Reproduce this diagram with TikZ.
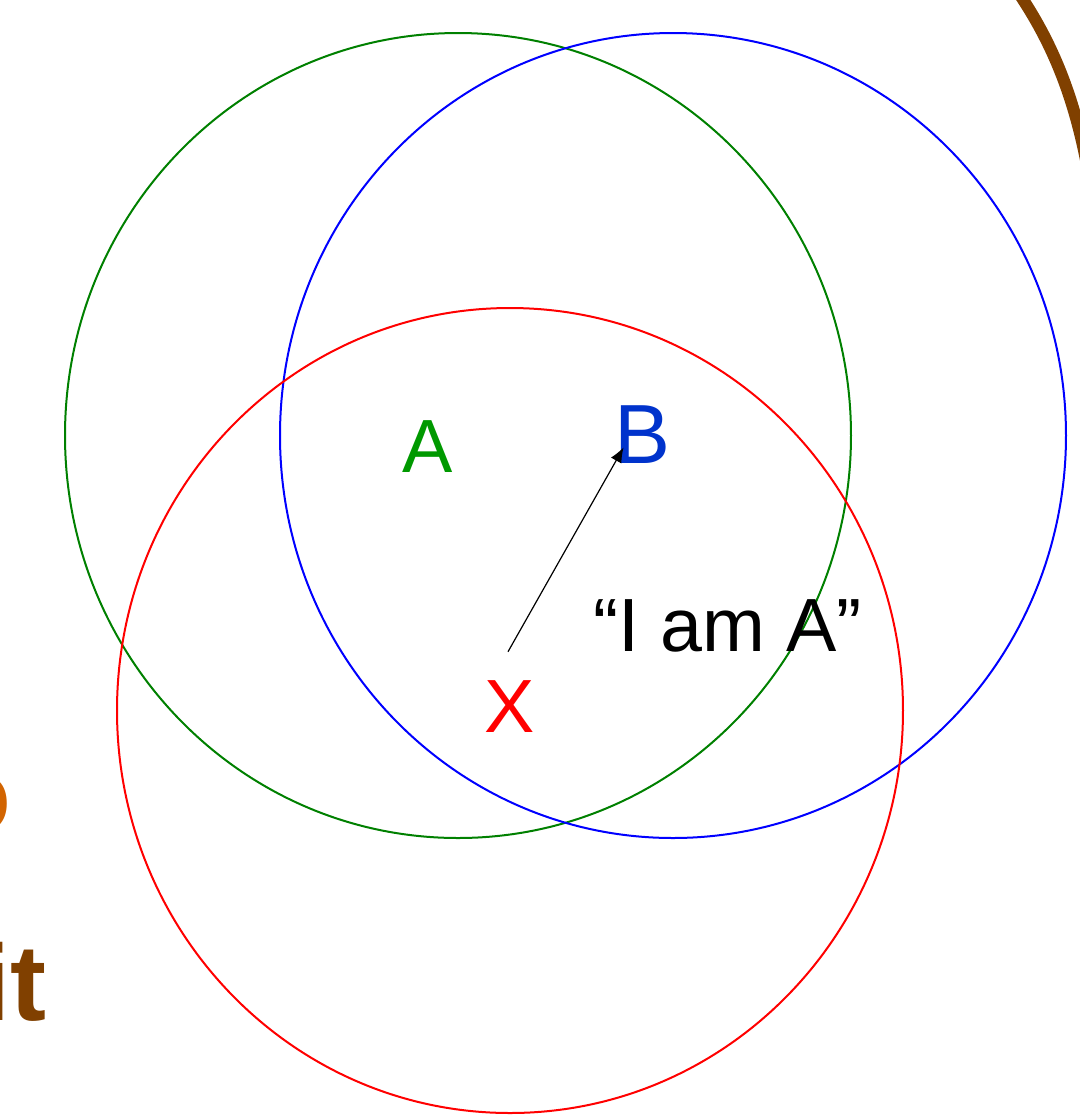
\documentclass[tikz,border=0pt]{standalone}
\usepackage{fontspec}
\setmainfont{Liberation Sans}
\usetikzlibrary{arrows.meta,calc}
\definecolor{cgreen}{RGB}{0,128,0}
\definecolor{lgreen}{RGB}{0,153,0}
\definecolor{lblue}{RGB}{0,51,204}
\definecolor{slidebrown}{RGB}{128,64,0}
\definecolor{slideorange}{RGB}{210,100,0}

\begin{document}
\begin{tikzpicture}[x=0.5pt,y=-0.5pt,
    rangeline/.style={line width=1pt},
    lbl/.style={font=\fontsize{37.7}{45}\selectfont, inner sep=0pt, anchor=base}]
        \useasboundingbox (0,0) rectangle (1080,1116);
        \clip (0,0) rectangle (1080,1116);

        \coordinate (GA) at (458,435.5); % range of A
        \coordinate (GB) at (673,435.5); % range of B
        \coordinate (GX) at (510,710.5); % range of X

        \draw[rangeline, cgreen] (GA) ellipse [x radius=393, y radius=402.5];
        \draw[rangeline, blue] (GB) ellipse [x radius=393, y radius=402.5];
        \draw[rangeline, red] (GX) ellipse [x radius=393, y radius=402.5];

        % leftovers of the slide
        \draw[slidebrown, line width=6pt] (1020,-5) .. controls (1050,40) and (1072,90) .. (1086,160);
        \node[font=\bfseries\fontsize{54}{60}\selectfont, text=slideorange, inner sep=0pt, anchor=base east] (o) at (12,832) {o};
        \node[font=\bfseries\fontsize{54}{60}\selectfont, text=slidebrown, inner sep=0pt, anchor=base east] (it) at (47,1020) {it};

        \node[lbl, text=lgreen] (A) at (427.5,472) {A};
        \node[lbl, text=lblue, font=\fontsize{42}{50}\selectfont] (B) at (643,463) {B};
        \node[lbl, text=red] (X) at (510,732) {X};
        \node[lbl] (msg) at (727.5,651) {“I am A”};

        \coordinate (start) at ($(X.north)+(-2,-28)$);
        \draw[-{Latex[length=7.5pt,width=6pt]}, line width=0.6pt] (start) -- ($(B.south west)+(9,-16)$);

    \end{tikzpicture}
\end{document}
